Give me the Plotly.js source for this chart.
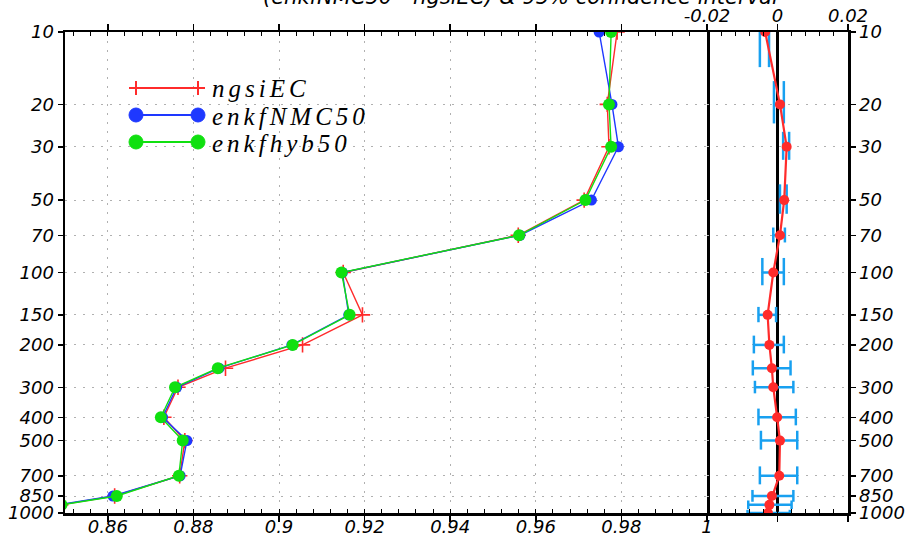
<!DOCTYPE html>
<html>
<head>
<meta charset="utf-8">
<script src="https://cdn.plot.ly/plotly-3.0.1.min.js"></script>
<style>
html,body{margin:0;padding:0;background:#fff;}
#chart{width:910px;height:542px;}
.annotation[data-index="1"] .annotation-text,
.annotation[data-index="2"] .annotation-text,
.annotation[data-index="3"] .annotation-text{letter-spacing:4px;}
</style>
</head>
<body>
<div id="chart"></div>
<script>
// ---------- data ----------
const levels = [10,20,30,50,70,100,150,200,250,300,400,500,700,850,925,1000];
const levelTicks = [10,20,30,50,70,100,150,200,300,400,500,700,850,1000];
const levelTickText = ['10','20','30','50','70','100','150','200','300','400','500','700','850','1000'];
const ngsiEC    = [0.9790,0.9767,0.9771,0.9713,0.9559,0.9150,0.9195,0.9055,0.8875,0.8764,0.8731,0.8780,0.8768,0.8616,0.8490,0.8445];
const enkfNMC50 = [0.9748,0.9778,0.9793,0.9730,0.9563,0.9148,0.9163,0.9030,0.8860,0.8761,0.8728,0.8785,0.8769,0.8612,0.8485,0.8440];
const enkfhyb50 = [0.9776,0.9771,0.9776,0.9716,0.9561,0.9146,0.9165,0.9032,0.8857,0.8757,0.8724,0.8775,0.8766,0.8621,0.8492,0.8447];
const diffNMC   = [-0.0035,0.0007,0.0026,0.0019,0.0007,-0.0012,-0.0028,-0.0023,-0.0016,-0.0012,-0.0001,0.0007,0.0005,-0.0016,-0.0023,-0.0027];
const ciLow     = [-0.0050,-0.0010,0.0016,0.0007,-0.0012,-0.0043,-0.0054,-0.0067,-0.0070,-0.0064,-0.0054,-0.0047,-0.0050,-0.0071,-0.0083,-0.0085];
const ciHigh    = [-0.0024,0.0018,0.0033,0.0026,0.0021,0.0018,-0.0004,0.0018,0.0037,0.0045,0.0052,0.0056,0.0056,0.0045,0.0040,0.0035];
const capHalf   = [4,4,4,7,5,13,11,17,18,18,32,45,60,48,38,30]; // cap half-height (hPa)
const titleText = '(enkfNMC50 - ngsiEC) &amp; 95% confidence interval';

// ---------- colours ----------
const cRed = '#FF2B2B', cBlue = '#1E38FF', cGreen = '#10E010', cCI = '#18A0F0';

// ---------- CI path from data ----------
const ciX = [], ciY = [];
levels.forEach((p, i) => {
  ciX.push(ciLow[i], ciHigh[i], null);
  ciY.push(p, p, null);
  ciX.push(ciLow[i], ciLow[i], null);
  ciY.push(p - capHalf[i], p + capHalf[i], null);
  ciX.push(ciHigh[i], ciHigh[i], null);
  ciY.push(p - capHalf[i], p + capHalf[i], null);
});

const traces = [
  {x: ngsiEC, y: levels, xaxis: 'x', yaxis: 'y', mode: 'lines+markers', name: 'ngsiEC',
   line: {color: cRed, width: 1.4}, marker: {symbol: 'cross-thin', size: 11, line: {color: cRed, width: 1.6}}},
  {x: enkfNMC50, y: levels, xaxis: 'x', yaxis: 'y', mode: 'lines+markers', name: 'enkfNMC50',
   line: {color: cBlue, width: 1.4}, marker: {symbol: 'circle', size: 11, color: cBlue}},
  {x: enkfhyb50, y: levels, xaxis: 'x', yaxis: 'y', mode: 'lines+markers', name: 'enkfhyb50',
   line: {color: cGreen, width: 1.4}, marker: {symbol: 'circle', size: 12, color: cGreen}},
  {x: ciX, y: ciY, xaxis: 'x2', yaxis: 'y2', mode: 'lines', line: {color: cCI, width: 2.5}, connectgaps: false, hoverinfo: 'skip'},
  {x: diffNMC, y: levels, xaxis: 'x2', yaxis: 'y2', mode: 'lines+markers',
   line: {color: cRed, width: 2.2}, marker: {symbol: 'circle', size: 10, color: cRed}}
];

// ---------- geometry helpers (layout only) ----------
const L = 65, R = 848, T = 32, B = 513;
const px = v => (v - L) / (R - L);
const py = v => (B - v) / (B - T);
const split = px(707);

const tickFont = {family: 'DejaVu Sans', size: 18, style: 'italic', color: '#000'};
const gridDash = '2px,7px';
const gridColor = '#b0b0b0';

// ---------- annotations & custom legend ----------
const shapes = [];
const annotations = [];
annotations.push({xref: 'paper', yref: 'paper', x: px(520), y: py(-3), xanchor: 'center', yanchor: 'middle',
                  text: titleText, showarrow: false,
                  font: {family: 'DejaVu Sans', size: 21, style: 'italic', color: '#000'}});
const legendRows = [
  {name: 'ngsiEC', color: cRed, kind: 'cross', y: 88},
  {name: 'enkfNMC50', color: cBlue, kind: 'circle', y: 115},
  {name: 'enkfhyb50', color: cGreen, kind: 'circle', y: 142}
];
legendRows.forEach(r => {
  shapes.push({type: 'line', xref: 'paper', yref: 'paper', x0: px(131), x1: px(198), y0: py(r.y), y1: py(r.y),
               line: {color: r.color, width: 2}});
  [136, 198].forEach(cx => {
    if (r.kind === 'cross') {
      shapes.push({type: 'line', xref: 'paper', yref: 'paper', x0: px(cx), x1: px(cx), y0: py(r.y - 7), y1: py(r.y + 7), line: {color: r.color, width: 2}});
      shapes.push({type: 'line', xref: 'paper', yref: 'paper', x0: px(cx - 7), x1: px(cx + 7), y0: py(r.y), y1: py(r.y), line: {color: r.color, width: 2}});
    } else {
      shapes.push({type: 'circle', xref: 'paper', yref: 'paper', x0: px(cx - 7), x1: px(cx + 7), y0: py(r.y - 7), y1: py(r.y + 7),
                   fillcolor: r.color, line: {color: r.color, width: 1}});
    }
  });
  annotations.push({xref: 'paper', yref: 'paper', x: px(210), y: py(r.y + 1), xanchor: 'left', yanchor: 'middle',
                    align: 'left', text: r.name, showarrow: false,
                    font: {family: 'Liberation Serif', size: 25, style: 'italic', color: '#000'}});
});

const layout = {
  width: 910, height: 542,
  margin: {l: L, r: 910 - R, t: T, b: 542 - B, pad: 0},
  paper_bgcolor: '#fff', plot_bgcolor: '#fff',
  showlegend: false,
  xaxis: {
    domain: [0, split], range: [0.85, 1.0], anchor: 'y', side: 'bottom',
    tick0: 0.86, dtick: 0.02, ticks: 'outside', ticklen: 6, tickwidth: 1.5, tickcolor: '#000',
    ticklabelstandoff: -10,
    tickfont: tickFont, showline: true, linecolor: '#000', linewidth: 2.5, mirror: 'allticks',
    showgrid: true, gridcolor: gridColor, gridwidth: 1, griddash: gridDash, zeroline: false,
    minor: {dtick: 0.004, tick0: 0.86, ticks: 'inside', ticklen: 4, tickcolor: '#000', tickwidth: 1, showgrid: false}
  },
  xaxis2: {
    domain: [split, 1], range: [-0.02, 0.02], anchor: 'y2', side: 'top',
    tickvals: [-0.02, 0, 0.02], ticktext: ['-0.02', '0', '0.02'],
    ticks: 'outside', ticklen: 6, tickwidth: 1.5, tickcolor: '#000',
    ticklabelstandoff: -6,
    tickfont: tickFont, showline: true, linecolor: '#000', linewidth: 2.5, mirror: 'allticks',
    showgrid: false, zeroline: true, zerolinecolor: '#000', zerolinewidth: 2.5,
    minor: {dtick: 0.004, tick0: -0.02, ticks: 'inside', ticklen: 4, tickcolor: '#000', tickwidth: 1, showgrid: false}
  },
  yaxis: {
    type: 'log', range: [3, 1], anchor: 'x', side: 'left',
    tickvals: levelTicks, ticktext: levelTickText,
    ticks: 'outside', ticklen: 5, tickwidth: 1.5, tickcolor: '#000', tickfont: tickFont,
    showline: true, linecolor: '#000', linewidth: 2.5, mirror: true,
    showgrid: true, gridcolor: gridColor, gridwidth: 1, griddash: gridDash, zeroline: false
  },
  yaxis2: {
    type: 'log', range: [3, 1], anchor: 'x2', side: 'right',
    tickvals: levelTicks, ticktext: levelTickText,
    ticks: 'outside', ticklen: 5, tickwidth: 1.5, tickcolor: '#000', tickfont: tickFont,
    showline: true, linecolor: '#000', linewidth: 2.5, mirror: false,
    showgrid: true, gridcolor: gridColor, gridwidth: 1, griddash: gridDash, zeroline: false
  },
  shapes: shapes,
  annotations: annotations
};

Plotly.newPlot('chart', traces, layout, {staticPlot: true, displayModeBar: false});
</script>
</body>
</html>
